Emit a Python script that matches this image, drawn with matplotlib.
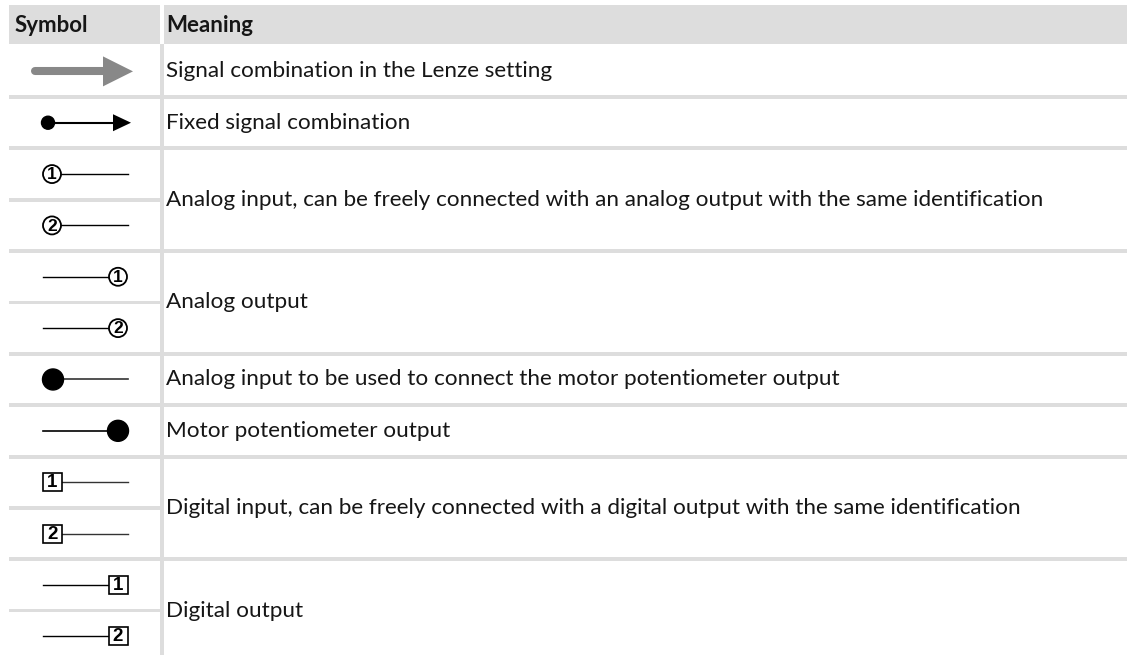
import matplotlib.pyplot as plt
from matplotlib.patches import Circle, Rectangle, Polygon

# table content
header = ["Symbol", "Meaning"]
meanings = [
    "Signal combination in the Lenze setting",
    "Fixed signal combination",
    "Analog input, can be freely connected with an analog output with the same identification",
    "Analog output",
    "Analog input to be used to connect the motor potentiometer output",
    "Motor potentiometer output",
    "Digital input, can be freely connected with a digital output with the same identification",
    "Digital output",
]
meaning_spans = [1, 1, 2, 2, 1, 1, 2, 2]
symbol_kinds = ["arrow_gray", "arrow_fixed", "circ_in", "circ_in", "circ_out", "circ_out",
                "dot_in", "dot_out", "box_in", "box_in", "box_out", "box_out"]
symbol_labels = ["", "", "1", "2", "1", "2", "", "", "1", "2", "1", "2"]

W, H = 1127, 655
GRID = "#dddddd"
TEXT = "#161616"
plt.rcParams['font.family'] = ['Lato', 'DejaVu Sans']

fig = plt.figure(figsize=(W / 100, H / 100), dpi=100)
ax = fig.add_axes([0, 0, 1, 1])
ax.set_xlim(0, W)
ax.set_ylim(H, 0)
ax.axis('off')

left, split, hdr_top, hdr_bot = 9, 162, 5, 44
row0, pitch = 45.7, 51.35

# header cells
ax.add_patch(Rectangle((left, hdr_top), split - 2 - left, hdr_bot - hdr_top, color=GRID, lw=0))
ax.add_patch(Rectangle((split + 2, hdr_top), W - split - 2, hdr_bot - hdr_top, color=GRID, lw=0))
ax.text(15, 25, header[0], fontsize=16, fontweight='bold', va='center', color=TEXT)
ax.text(166, 25, header[1], fontsize=16, fontweight='bold', va='center', color=TEXT)

# vertical divider
ax.add_patch(Rectangle((split - 2, hdr_bot), 4, H - hdr_bot, color=GRID, lw=0))

# meaning rows + separators
sub = 0
for text, span in zip(meanings, meaning_spans):
    yc = row0 + pitch * (sub + span / 2)
    ax.text(166, yc, text, fontsize=16.2, va='center', color=TEXT)
    if sub > 0:
        ax.add_patch(Rectangle((left, row0 + pitch * sub - 2), W - left, 4, color=GRID, lw=0))
    if span == 2:
        ax.add_patch(Rectangle((left, row0 + pitch * (sub + 1) - 1.8), split - left, 3.6, color=GRID, lw=0))
    sub += span


def num_badge(x, y, label, shape):
    if shape == "circ":
        ax.add_patch(Circle((x, y), 9, fc='white', ec='black', lw=1.3, zorder=3))
        fs = 12.5
    else:
        ax.add_patch(Rectangle((x - 9.5, y - 9), 19, 18, fc='white', ec='black', lw=1.2, zorder=3))
        fs = 13.5
    ax.text(x, y + 0.7, label, fontsize=fs, fontweight='bold', ha='center', va='center',
            family='Liberation Sans', color='black', zorder=4)


for i, (kind, label) in enumerate(zip(symbol_kinds, symbol_labels)):
    y = row0 + pitch * (i + 0.5)
    if kind == "arrow_gray":
        ax.plot([35, 104], [y, y], color='#888888', lw=5.8, solid_capstyle='round')
        ax.add_patch(Polygon([(103, y - 15), (133, y), (103, y + 15)], color='#888888', lw=0))
    elif kind == "arrow_fixed":
        ax.plot([48, 115], [y, y], color='black', lw=1.5)
        ax.add_patch(Circle((48, y), 6.5, color='black', zorder=3))
        ax.add_patch(Polygon([(113, y - 8.5), (131, y), (113, y + 8.5)], color='black', lw=0, zorder=3))
    elif kind == "circ_in":
        ax.plot([61, 128], [y, y], color='black', lw=1.0)
        num_badge(52, y, label, "circ")
    elif kind == "circ_out":
        ax.plot([43, 109], [y, y], color='black', lw=1.0)
        num_badge(118, y, label, "circ")
    elif kind == "dot_in":
        ax.plot([53, 128], [y, y], color='#333333', lw=1.2)
        ax.add_patch(Circle((53, y), 10.5, color='black', zorder=3))
    elif kind == "dot_out":
        ax.plot([43, 118], [y, y], color='black', lw=1.2)
        ax.add_patch(Circle((118, y), 10.5, color='black', zorder=3))
    elif kind == "box_in":
        ax.plot([62, 128], [y, y], color='#333333', lw=1.0)
        num_badge(52.5, y, label, "box")
    elif kind == "box_out":
        ax.plot([43, 108], [y, y], color='black', lw=1.0)
        num_badge(118, y, label, "box")

fig.savefig("out.png", dpi=100, facecolor='white')
